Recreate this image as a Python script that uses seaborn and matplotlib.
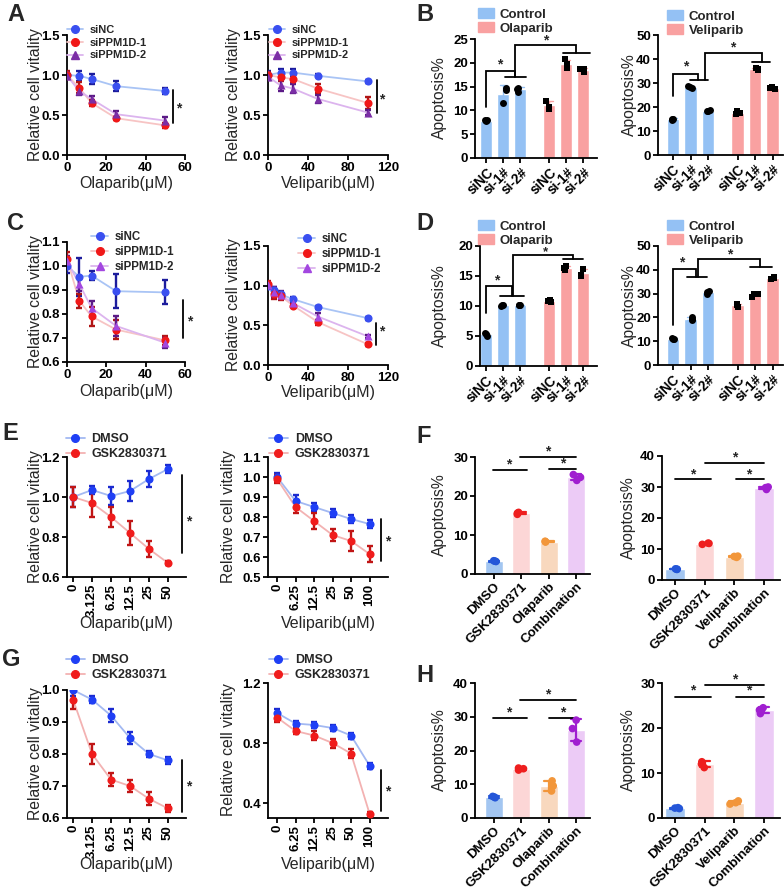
import numpy as np
import pandas as pd
import matplotlib
matplotlib.use("Agg")
import matplotlib.pyplot as plt
import seaborn as sns
from matplotlib.lines import Line2D
from matplotlib.patches import Patch

# =====================
# DATA
# =====================
# A: cell vitality, siRNA knockdown (line 1)
a_ola_dose = [0, 6.25, 12.5, 25, 50]
a_ola_sinc = [1.00, 0.99, 0.95, 0.86, 0.80]
a_ola_sinc_sd = [0.04, 0.06, 0.06, 0.06, 0.04]
a_ola_si1 = [1.00, 0.84, 0.65, 0.46, 0.37]
a_ola_si1_sd = [0.05, 0.07, 0.04, 0.02, 0.03]
a_ola_si2 = [0.99, 0.80, 0.70, 0.51, 0.43]
a_ola_si2_sd = [0.04, 0.05, 0.04, 0.04, 0.04]

a_vel_dose = [0, 12.5, 25, 50, 100]
a_vel_sinc = [1.00, 1.03, 1.03, 0.99, 0.92]
a_vel_sinc_sd = [0.05, 0.04, 0.04, 0.02, 0.02]
a_vel_si1 = [1.00, 0.97, 0.95, 0.83, 0.65]
a_vel_si1_sd = [0.04, 0.05, 0.05, 0.06, 0.07]
a_vel_si2 = [0.98, 0.87, 0.83, 0.70, 0.53]
a_vel_si2_sd = [0.04, 0.07, 0.06, 0.05, 0.03]

# C: cell vitality, siRNA knockdown (line 2)
c_ola_dose = [0, 6.25, 12.5, 25, 50]
c_ola_sinc = [1.00, 0.955, 0.96, 0.895, 0.89]
c_ola_sinc_sd = [0.03, 0.08, 0.02, 0.07, 0.05]
c_ola_si1 = [1.03, 0.855, 0.79, 0.735, 0.69]
c_ola_si1_sd = [0.03, 0.03, 0.04, 0.04, 0.02]
c_ola_si2 = [1.02, 0.925, 0.825, 0.75, 0.68]
c_ola_si2_sd = [0.02, 0.03, 0.03, 0.04, 0.02]

c_vel_dose = [0, 6.25, 12.5, 25, 50, 100]
c_vel_sinc = [1.00, 0.95, 0.89, 0.83, 0.73, 0.59]
c_vel_sinc_sd = [0.03, 0.03, 0.03, 0.03, 0.02, 0.02]
c_vel_si1 = [1.02, 0.89, 0.87, 0.75, 0.54, 0.26]
c_vel_si1_sd = [0.04, 0.06, 0.05, 0.02, 0.03, 0.02]
c_vel_si2 = [1.01, 0.92, 0.88, 0.78, 0.61, 0.36]
c_vel_si2_sd = [0.04, 0.06, 0.05, 0.02, 0.04, 0.02]

si_names = ["siNC", "siPPM1D-1", "siPPM1D-2"]
bar_ticks = ["siNC", "si-1#", "si-2#"]

# B / D: apoptosis replicates (siNC, si-1#, si-2#)
b_ola_ctrl = [[7.7, 7.9, 8.0], [11.5, 14.3, 14.8], [13.8, 14.8, 14.6]]
b_ola_trt = [[10.3, 12.0, 10.8], [19.0, 20.7, 19.8], [18.0, 18.7, 18.8]]
b_vel_ctrl = [[14.5, 15.0, 15.2], [28.0, 28.5, 28.8], [18.2, 18.8, 18.5]]
b_vel_trt = [[17.0, 18.2, 17.6], [35.5, 36.2, 35.8], [27.5, 28.3, 28.0]]
d_ola_ctrl = [[5.0, 5.4, 5.5], [10.0, 10.1, 10.2], [10.1, 10.1, 10.2]]
d_ola_trt = [[10.6, 11.0, 10.8], [16.0, 16.6, 16.4], [15.0, 16.2, 15.2]]
d_vel_ctrl = [[10.8, 11.2, 11.0], [19.0, 20.0, 19.5], [30.0, 31.0, 30.5]]
d_vel_trt = [[24.5, 25.5, 25.2], [28.5, 30.0, 30.0], [36.0, 37.0, 36.5]]

# E / G: GSK2830371 combination vitality
ola_ticks = ["0", "3.125", "6.25", "12.5", "25", "50"]
vel_ticks = ["0", "6.25", "12.5", "25", "50", "100"]
combo_names = ["DMSO", "GSK2830371"]
e_ola_dmso = [1.00, 1.035, 1.005, 1.03, 1.09, 1.14]
e_ola_dmso_sd = [0.05, 0.02, 0.045, 0.05, 0.04, 0.02]
e_ola_gsk = [1.00, 0.97, 0.90, 0.82, 0.74, 0.67]
e_ola_gsk_sd = [0.05, 0.07, 0.05, 0.06, 0.04, 0.01]
e_vel_dmso = [1.00, 0.88, 0.85, 0.82, 0.79, 0.765]
e_vel_dmso_sd = [0.02, 0.03, 0.02, 0.02, 0.02, 0.02]
e_vel_gsk = [0.99, 0.85, 0.78, 0.71, 0.68, 0.615]
e_vel_gsk_sd = [0.02, 0.03, 0.04, 0.03, 0.05, 0.04]
g_ola_dmso = [1.00, 0.97, 0.92, 0.85, 0.80, 0.78]
g_ola_dmso_sd = [0.02, 0.01, 0.02, 0.02, 0.01, 0.01]
g_ola_gsk = [0.97, 0.80, 0.72, 0.70, 0.66, 0.63]
g_ola_gsk_sd = [0.03, 0.03, 0.02, 0.02, 0.02, 0.01]
g_vel_dmso = [1.00, 0.93, 0.92, 0.90, 0.85, 0.65]
g_vel_dmso_sd = [0.03, 0.02, 0.02, 0.02, 0.02, 0.02]
g_vel_gsk = [0.97, 0.88, 0.85, 0.80, 0.73, 0.33]
g_vel_gsk_sd = [0.03, 0.02, 0.03, 0.03, 0.03, 0.01]

# F / H: apoptosis replicates (DMSO, GSK2830371, PARPi, Combination)
f_ola = [[3.2, 3.4, 3.3], [15.3, 15.6, 15.8], [8.2, 8.4, 8.3], [24.0, 25.5, 24.8]]
f_vel = [[3.4, 3.6, 3.5], [11.5, 11.8, 11.9], [7.3, 7.6, 7.7], [29.2, 29.8, 30.0]]
h_ola = [[6.0, 6.4, 6.2], [14.2, 14.8, 14.6], [8.0, 9.5, 11.0], [22.5, 26.5, 29.0]]
h_vel = [[2.1, 2.3, 2.2], [11.2, 12.5, 12.0], [3.1, 3.8, 3.4], [23.2, 24.5, 24.0]]

# =====================
# STYLE
# =====================
sns.set_theme(style="ticks")
plt.rcParams["font.family"] = ["Liberation Sans", "DejaVu Sans"]
plt.rcParams["font.weight"] = "bold"

W, H = 784, 892
fig = plt.figure(figsize=(W / 100, H / 100), dpi=100)

c_nc, c_nc_l, c_nc_e = "#3a4ff0", "#a9c4f5", "#1c1c9c"
c_s1, c_s1_l, c_s1_e = "#f01818", "#f7c4c4", "#b01515"
c_s2, c_s2_l, c_s2_e = "#7b2ea6", "#dcb4ee", "#5b1a86"
c_s2b = "#a347e0"
c_dm, c_dm_l, c_dm_e = "#1f3ff5", "#a3b9f2", "#1a2ad0"
c_gk, c_gk_l, c_gk_e = "#f01c1c", "#f3b2b2", "#c01515"
c_ctrl, c_trt = "#94c1f4", "#f9a1a1"
fh_bar = ["#a3c6f1", "#fcd6d6", "#f8d8be", "#eccbf6"]
fh_pt = ["#2456d8", "#ee1f1f", "#f2963a", "#a01fd0"]


def px_ax(x0, y0, x1, y1):
    ax = fig.add_axes([x0 / W, 1 - y1 / H, (x1 - x0) / W, (y1 - y0) / H])
    sns.despine(ax=ax)
    for s in ("left", "bottom"):
        ax.spines[s].set_linewidth(1.3)
        ax.spines[s].set_color("black")
    ax.tick_params(length=3.5, width=1.3, pad=1.5, labelsize=9.5, colors="black")
    return ax


def ylab(ax, text, xr, yc):
    ax.set_ylabel(text, fontsize=11.3, fontweight="normal")
    ax.yaxis.set_label_coords(xr / W, 1 - yc / H, transform=fig.transFigure)


def xlab(ax, text, xc, yt):
    ax.set_xlabel(text, fontsize=11.5, fontweight="normal")
    ax.xaxis.set_label_coords(xc / W, 1 - yt / H, transform=fig.transFigure)


def letter(text, x, y):
    fig.text(x / W, 1 - y / H, text, fontsize=17, fontweight="bold", ha="left", va="top")


def curve(ax, x, mean, sd, mcol, lcol, ecol, marker):
    sns.lineplot(x=x, y=mean, ax=ax, color=lcol, lw=1.3, zorder=2)
    ax.errorbar(x, mean, yerr=sd, fmt="none", ecolor=ecol, elinewidth=1.7,
                capsize=2.5, capthick=1.7, zorder=3)
    sns.scatterplot(x=x, y=mean, ax=ax, color=mcol, marker=marker, s=34,
                    linewidth=0, zorder=4)


def line_legend(names, mcols, lcols, markers, x, y, size):
    hs = [Line2D([0], [0], color=l, lw=1.3, marker=m, markersize=5.5,
                 markerfacecolor=c, markeredgecolor=c)
          for c, l, m in zip(mcols, lcols, markers)]
    fig.legend(hs, names, loc="upper left", bbox_to_anchor=(x / W, 1 - y / H),
               frameon=False, fontsize=size, handlelength=1.5, handletextpad=0.55,
               labelspacing=0.25, borderpad=0, borderaxespad=0)


def bar_legend(names, x, y):
    hs = [Patch(color=c_ctrl), Patch(color=c_trt)]
    fig.legend(hs, names, loc="upper left", bbox_to_anchor=(x / W, 1 - y / H),
               frameon=False, fontsize=9.5, handlelength=1.2, handleheight=0.8,
               handletextpad=0.45, labelspacing=0.1, borderpad=0, borderaxespad=0)


def sig(ax, xs, ys):
    ax.plot(xs, ys, color="black", lw=1.3, clip_on=False, solid_joinstyle="miter")


def star(ax, x, y, size=10):
    ax.text(x, y, "*", ha="center", va="center", fontsize=size, clip_on=False)


def group_bars(ax, ctrl, trt, xlim):
    pos_c, pos_t = [0.0, 1.0, 2.0], [3.7, 4.7, 5.7]
    for pos, reps, col, mk in ((pos_c, ctrl, c_ctrl, "o"), (pos_t, trt, c_trt, "s")):
        df = pd.DataFrame({"pos": np.repeat(pos, 3), "val": np.concatenate(reps)})
        sns.barplot(data=df, x="pos", y="val", native_scale=True, orient="x",
                    color=col, saturation=1, width=0.72, errorbar="sd", capsize=0.4,
                    err_kws={"color": col, "linewidth": 1.0}, ax=ax)
        sns.stripplot(data=df, x="pos", y="val", native_scale=True, orient="x",
                      color="black", marker=mk, size=5.0, jitter=0.18, ax=ax, zorder=3)
    ax.set_xticks(pos_c + pos_t)
    ax.set_xticklabels(bar_ticks * 2, rotation=45, ha="right", rotation_mode="anchor",
                       fontsize=9.8)
    ax.set_xlim(*xlim)
    ax.set_xlabel("")


def four_bars(ax, reps, labels, xlim):
    df = pd.DataFrame({"grp": np.repeat(labels, 3), "val": np.concatenate(reps)})
    sns.barplot(data=df, x="grp", y="val", hue="grp", palette=fh_bar, saturation=1,
                width=0.65, errorbar=None, legend=False, ax=ax)
    sns.pointplot(data=df, x="grp", y="val", hue="grp", palette=fh_pt, errorbar="sd",
                  capsize=0.35, linestyle="none", marker="", err_kws={"linewidth": 1.6},
                  legend=False, ax=ax)
    sns.stripplot(data=df, x="grp", y="val", hue="grp", palette=fh_pt, size=5.5,
                  jitter=0.17, legend=False, ax=ax, zorder=4)
    ax.set_xticks(range(4))
    ax.set_xticklabels(labels, rotation=45, ha="right", rotation_mode="anchor", fontsize=9.5)
    ax.set_xlim(*xlim)
    ax.set_xlabel("")


np.random.seed(3)

# =====================
# PANEL A
# =====================
letter("A", 7, 3)
ax = px_ax(67, 35, 185, 155)
curve(ax, a_ola_dose, a_ola_sinc, a_ola_sinc_sd, c_nc, c_nc_l, c_nc_e, "o")
curve(ax, a_ola_dose, a_ola_si1, a_ola_si1_sd, c_s1, c_s1_l, c_s1_e, "o")
curve(ax, a_ola_dose, a_ola_si2, a_ola_si2_sd, c_s2, c_s2_l, c_s2_e, "^")
ax.set(xlim=(0, 60), ylim=(0, 1.5), xticks=[0, 20, 40, 60], yticks=[0, 0.5, 1.0, 1.5])
ylab(ax, "Relative cell vitality", 43, 95)
xlab(ax, "Olaparib(\u03bcM)", 126, 176)
sig(ax, [54, 54], [0.40, 0.81])
star(ax, 57, 0.58)
line_legend(si_names, [c_nc, c_s1, c_s2], [c_nc_l, c_s1_l, c_s2_l], ["o", "o", "^"], 67, 25, 7.9)

ax = px_ax(268, 35, 388, 155)
curve(ax, a_vel_dose, a_vel_sinc, a_vel_sinc_sd, c_nc, c_nc_l, c_nc_e, "o")
curve(ax, a_vel_dose, a_vel_si1, a_vel_si1_sd, c_s1, c_s1_l, c_s1_e, "o")
curve(ax, a_vel_dose, a_vel_si2, a_vel_si2_sd, c_s2, c_s2_l, c_s2_e, "^")
ax.set(xlim=(0, 120), ylim=(0, 1.5), xticks=[0, 40, 80, 120], yticks=[0, 0.5, 1.0, 1.5])
ylab(ax, "Relative cell vitality", 241, 95)
xlab(ax, "Veliparib(\u03bcM)", 328, 176)
sig(ax, [109, 109], [0.52, 0.94])
star(ax, 114, 0.70)
line_legend(si_names, [c_nc, c_s1, c_s2], [c_nc_l, c_s1_l, c_s2_l], ["o", "o", "^"], 269, 25, 7.9)

# =====================
# PANEL B
# =====================
letter("B", 416, 3)
ax = px_ax(475, 39, 597, 158)
group_bars(ax, b_ola_ctrl, b_ola_trt, (-0.65, 6.5))
ax.set(ylim=(0, 25), yticks=[0, 5, 10, 15, 20, 25])
ylab(ax, "Apoptosis%", 447, 98)
sig(ax, [0, 0, 1.7, 1.7], [10.7, 18.3, 18.3, 17.0])
sig(ax, [1.1, 2.35], [17.0, 17.0])
star(ax, 0.8, 19.6)
sig(ax, [1.7, 1.7, 5.25, 5.25], [17.0, 23.7, 23.7, 22.0])
sig(ax, [4.5, 6.1], [22.0, 22.0])
star(ax, 3.5, 24.7)
bar_legend(["Control", "Olaparib"], 478, 8)

ax = px_ax(658, 35, 783, 155)
group_bars(ax, b_vel_ctrl, b_vel_trt, (-0.86, 6.29))
ax.set(ylim=(0, 50), yticks=[0, 10, 20, 30, 40, 50])
ylab(ax, "Apoptosis%", 637, 95)
sig(ax, [0, 0, 1.43, 1.43], [24.6, 33.7, 33.7, 31.2])
sig(ax, [0.97, 2.0], [31.2, 31.2])
star(ax, 0.7, 36.7)
sig(ax, [1.83, 1.83, 5.1, 5.1], [31.2, 42.5, 42.5, 38.7])
sig(ax, [4.5, 5.55], [38.7, 38.7])
star(ax, 3.43, 45.0)
bar_legend(["Control", "Veliparib"], 667, 10)

# =====================
# PANEL C
# =====================
letter("C", 7, 212)
ax = px_ax(67, 242, 185, 362)
curve(ax, c_ola_dose, c_ola_sinc, c_ola_sinc_sd, c_nc, c_nc_l, c_nc_e, "o")
curve(ax, c_ola_dose, c_ola_si1, c_ola_si1_sd, c_s1, c_s1_l, c_s1_e, "o")
curve(ax, c_ola_dose, c_ola_si2, c_ola_si2_sd, c_s2b, c_s2_l, c_s2_e, "^")
ax.set(xlim=(0, 60), ylim=(0.6, 1.1), xticks=[0, 20, 40, 60],
       yticks=[0.6, 0.7, 0.8, 0.9, 1.0, 1.1])
ylab(ax, "Relative cell vitality", 43, 302)
xlab(ax, "Olaparib(\u03bcM)", 126, 384)
sig(ax, [59, 59], [0.70, 0.86])
star(ax, 62.5, 0.77)
line_legend(si_names, [c_nc, c_s1, c_s2b], [c_nc_l, c_s1_l, c_s2_l], ["o", "o", "^"], 91, 231, 8.3)

ax = px_ax(268, 246, 388, 365)
curve(ax, c_vel_dose, c_vel_sinc, c_vel_sinc_sd, c_nc, c_nc_l, c_nc_e, "o")
curve(ax, c_vel_dose, c_vel_si1, c_vel_si1_sd, c_s1, c_s1_l, c_s1_e, "o")
curve(ax, c_vel_dose, c_vel_si2, c_vel_si2_sd, c_s2b, c_s2_l, c_s2_e, "^")
ax.set(xlim=(0, 120), ylim=(0, 1.5), xticks=[0, 40, 80, 120], yticks=[0, 0.5, 1.0, 1.5])
ylab(ax, "Relative cell vitality", 241, 305)
xlab(ax, "Veliparib(\u03bcM)", 328, 385)
sig(ax, [108, 108], [0.25, 0.53])
star(ax, 114, 0.42)
line_legend(si_names, [c_nc, c_s1, c_s2b], [c_nc_l, c_s1_l, c_s2_l], ["o", "o", "^"], 298, 233, 8.3)

# =====================
# PANEL D
# =====================
letter("D", 416, 212)
ax = px_ax(480, 246, 597, 366)
group_bars(ax, d_ola_ctrl, d_ola_trt, (-0.35, 6.5))
ax.set(ylim=(0, 20), yticks=[0, 5, 10, 15, 20])
ylab(ax, "Apoptosis%", 447, 306)
sig(ax, [0, 0, 1.53, 1.53], [8.8, 13.3, 13.3, 11.7])
sig(ax, [0.82, 2.2], [11.7, 11.7])
star(ax, 0.65, 14.2)
sig(ax, [1.6, 1.6, 5.1, 5.1], [11.7, 18.5, 18.5, 17.8])
sig(ax, [4.5, 5.7], [17.8, 17.8])
star(ax, 3.5, 19.0, size=9.5)
bar_legend(["Control", "Olaparib"], 478, 220)

ax = px_ax(658, 246, 783, 365)
group_bars(ax, d_vel_ctrl, d_vel_trt, (-0.86, 6.29))
ax.set(ylim=(0, 50), yticks=[0, 10, 20, 30, 40, 50])
ylab(ax, "Apoptosis%", 637, 306)
sig(ax, [0, 0, 1.3, 1.3], [16.8, 40.3, 40.3, 37.0])
sig(ax, [0.8, 1.95], [37.0, 37.0])
star(ax, 0.5, 43.2)
sig(ax, [1.43, 1.43, 5.0, 5.0], [37.0, 44.5, 44.5, 41.0])
sig(ax, [4.4, 5.65], [41.0, 41.0])
star(ax, 3.26, 46.5)
bar_legend(["Control", "Veliparib"], 667, 220)

# =====================
# PANEL E
# =====================
letter("E", 2, 422)
xi = list(range(6))
ax = px_ax(67, 457, 186, 577)
curve(ax, xi, e_ola_dmso, e_ola_dmso_sd, c_dm, c_dm_l, c_dm_e, "o")
curve(ax, xi, e_ola_gsk, e_ola_gsk_sd, c_gk, c_gk_l, c_gk_e, "o")
ax.set(xlim=(-0.32, 5.95), ylim=(0.6, 1.2), yticks=[0.6, 0.8, 1.0, 1.2])
ax.set_xticks(xi)
ax.set_xticklabels(ola_ticks, rotation=90, fontsize=9.5)
ylab(ax, "Relative cell vitality", 43, 517)
xlab(ax, "Olaparib(\u03bcM)", 126, 616)
sig(ax, [5.74, 5.74], [0.72, 1.11])
star(ax, 6.1, 0.88)
line_legend(combo_names, [c_dm, c_gk], [c_dm_l, c_gk_l], ["o", "o"], 66, 433, 9.0)

ax = px_ax(268, 457, 388, 577)
curve(ax, xi, e_vel_dmso, e_vel_dmso_sd, c_dm, c_dm_l, c_dm_e, "o")
curve(ax, xi, e_vel_gsk, e_vel_gsk_sd, c_gk, c_gk_l, c_gk_e, "o")
ax.set(xlim=(-0.49, 6.0), ylim=(0.5, 1.1), yticks=[0.5, 0.6, 0.7, 0.8, 0.9, 1.0, 1.1])
ax.set_xticks(xi)
ax.set_xticklabels(vel_ticks, rotation=90, fontsize=9.5)
ylab(ax, "Relative cell vitality", 236, 517)
xlab(ax, "Veliparib(\u03bcM)", 328, 616)
sig(ax, [5.6, 5.6], [0.58, 0.79])
star(ax, 6.0, 0.68)
line_legend(combo_names, [c_dm, c_gk], [c_dm_l, c_gk_l], ["o", "o"], 269, 433, 9.0)

# =====================
# PANEL F
# =====================
letter("F", 416, 425)
ax = px_ax(475, 457, 590, 574)
four_bars(ax, f_ola, ["DMSO", "GSK2830371", "Olaparib", "Combination"], (-0.69, 3.5))
ax.set(ylim=(0, 30), yticks=[0, 10, 20, 30])
ylab(ax, "Apoptosis%", 447, 515)
sig(ax, [-0.04, 1.2], [26.7, 26.7]); star(ax, 0.55, 28.0)
sig(ax, [0.95, 3.0], [30.0, 30.0]); star(ax, 1.95, 31.3)
sig(ax, [2.0, 3.0], [27.0, 27.0]); star(ax, 2.5, 28.3)

ax = px_ax(662, 456, 780, 580)
four_bars(ax, f_vel, ["DMSO", "GSK2830371", "Veliparib", "Combination"], (-0.44, 3.54))
ax.set(ylim=(0, 40), yticks=[0, 10, 20, 30, 40])
ylab(ax, "Apoptosis%", 636, 518)
sig(ax, [0.0, 1.2], [32.5, 32.5]); star(ax, 0.6, 34.2)
sig(ax, [1.0, 3.0], [37.7, 37.7]); star(ax, 2.0, 39.4)
sig(ax, [2.05, 3.0], [32.5, 32.5]); star(ax, 2.5, 34.2)

# =====================
# PANEL G
# =====================
letter("G", 2, 648)
ax = px_ax(67, 690, 186, 818)
curve(ax, xi, g_ola_dmso, g_ola_dmso_sd, c_dm, c_dm_l, c_dm_e, "o")
curve(ax, xi, g_ola_gsk, g_ola_gsk_sd, c_gk, c_gk_l, c_gk_e, "o")
ax.set(xlim=(-0.32, 5.95), ylim=(0.6, 1.0), yticks=[0.6, 0.7, 0.8, 0.9, 1.0])
ax.set_xticks(xi)
ax.set_xticklabels(ola_ticks, rotation=90, fontsize=9.5)
ylab(ax, "Relative cell vitality", 43, 754)
xlab(ax, "Olaparib(\u03bcM)", 126, 857)
sig(ax, [5.74, 5.74], [0.62, 0.78])
star(ax, 6.1, 0.70)
line_legend(combo_names, [c_dm, c_gk], [c_dm_l, c_gk_l], ["o", "o"], 66, 654, 9.0)

ax = px_ax(268, 683, 388, 818)
curve(ax, xi, g_vel_dmso, g_vel_dmso_sd, c_dm, c_dm_l, c_dm_e, "o")
curve(ax, xi, g_vel_gsk, g_vel_gsk_sd, c_gk, c_gk_l, c_gk_e, "o")
ax.set(xlim=(-0.49, 6.0), ylim=(0.3, 1.2), yticks=[0.4, 0.8, 1.2])
ax.set_xticks(xi)
ax.set_xticklabels(vel_ticks, rotation=90, fontsize=9.5)
ylab(ax, "Relative cell vitality", 236, 750)
xlab(ax, "Veliparib(\u03bcM)", 328, 857)
sig(ax, [5.6, 5.6], [0.35, 0.62])
star(ax, 6.0, 0.48)
line_legend(combo_names, [c_dm, c_gk], [c_dm_l, c_gk_l], ["o", "o"], 269, 654, 9.0)

# =====================
# PANEL H
# =====================
letter("H", 416, 664)
ax = px_ax(475, 683, 590, 818)
four_bars(ax, h_ola, ["DMSO", "GSK2830371", "Olaparib", "Combination"], (-0.69, 3.5))
ax.set(ylim=(0, 40), yticks=[0, 10, 20, 30, 40])
ylab(ax, "Apoptosis%", 447, 750)
sig(ax, [-0.04, 1.2], [29.5, 29.5]); star(ax, 0.55, 31.2)
sig(ax, [0.95, 3.0], [35.0, 35.0]); star(ax, 1.95, 36.7)
sig(ax, [2.0, 3.0], [29.5, 29.5]); star(ax, 2.5, 31.2)

ax = px_ax(662, 683, 780, 818)
four_bars(ax, h_vel, ["DMSO", "GSK2830371", "Veliparib", "Combination"], (-0.44, 3.54))
ax.set(ylim=(0, 30), yticks=[0, 10, 20, 30])
ylab(ax, "Apoptosis%", 636, 750)
sig(ax, [0.0, 1.2], [27.0, 27.0]); star(ax, 0.6, 28.3)
sig(ax, [1.0, 3.0], [29.5, 29.5]); star(ax, 2.0, 30.8)
sig(ax, [2.05, 3.0], [27.0, 27.0]); star(ax, 2.5, 28.3)

fig.savefig("out.png", dpi=100)
print("saved out.png")
